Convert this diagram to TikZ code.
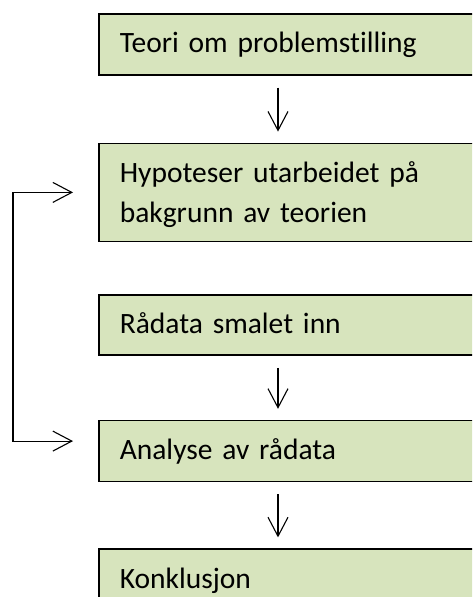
\documentclass[tikz,border=0pt]{standalone}
\usepackage{fontspec}
\setmainfont{Carlito}[Ligatures=NoCommon, WordSpace=0.8]
\usepackage{xcolor}
\definecolor{colorBox}{RGB}{215,228,189}
\usetikzlibrary{arrows.meta, positioning}
\tikzset{stepbox/.style={draw=black, line width=1.6pt, fill=colorBox, text width=360pt, inner xsep=21pt, inner ysep=0pt, align=left, font=\fontsize{29.5pt}{40pt}\selectfont, text height=23pt, text depth=6pt},
  flow/.style={->, shorten <=12pt, shorten >=11pt}}

\begin{document}
\begin{tikzpicture}[>={Straight Barb[length=19pt,width=20pt]}, line width=1.1pt]
\useasboundingbox (0,0) rectangle (472pt,-597pt);
\clip (0,0) rectangle (472pt,-597pt);
\node[stepbox, anchor=north west, minimum height=61pt] (teori) at (98pt,-13pt) {Teori om problemstilling};
\node[stepbox, below=67pt of teori, minimum height=98pt, text depth=43pt] (hyp) {Hypoteser utarbeidet på\\bakgrunn av teorien};
\node[stepbox, below=52pt of hyp, minimum height=60pt] (raa) {Rådata smalet inn};
\node[stepbox, below=64pt of raa, minimum height=61pt] (ana) {Analyse av rådata};
\node[stepbox, below=66pt of ana, minimum height=61pt] (konk) {Konklusjon};
\draw[flow] ([xshift=180pt]teori.south west) -- ([xshift=180pt]hyp.north west);
\draw[flow] ([xshift=180pt]raa.south west) -- ([xshift=180pt]ana.north west);
\draw[flow] ([xshift=180pt]ana.south west) -- ([xshift=180pt]konk.north west);
% tilbakekobling
\draw[<->] ([xshift=-25pt]hyp.west) -- ++(-60pt,0) |- ([xshift=-25pt,yshift=10pt]ana.west);
\end{tikzpicture}
\end{document}
